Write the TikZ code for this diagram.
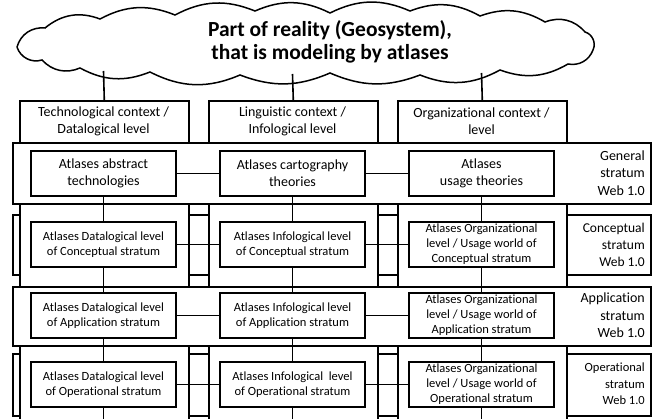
\documentclass[tikz,border=0pt]{standalone}
\usepackage{fontspec}
\setmainfont{Carlito}[Ligatures=NoCommon]
\begin{document}
\begin{tikzpicture}[x=1pt,y=-1pt,
  rect/.style={draw, line width=1.6pt, fill=white, inner sep=0pt, anchor=north west},
  inbox/.style={draw, line width=1.6pt, fill=white, inner sep=0pt, minimum width=145pt, minimum height=45pt, align=center},
  gtxt/.style={font=\fontsize{14}{17}\selectfont},
  stxt/.style={font=\fontsize{12.5}{15.5}\selectfont},
  ctx/.style={align=center, inner sep=0pt, font=\fontsize{14}{17}\selectfont},
  lblr/.style={align=right, inner sep=0pt, anchor=east, font=\fontsize{14}{17.5}\selectfont},
  conn/.style={line width=1.6pt},
  cloudline/.style={line width=1.5pt, fill=white}]
\useasboundingbox (0,0) rectangle (656,419);
\clip (0,0) rectangle (656,419);

% cloud
\draw[cloudline] (17,47) to[bend left=40] (45,28) to[bend left=30] (100,19)
  to[bend left=25] (175,15) to[bend left=25] (255,11) to[bend left=25] (330,13)
  to[bend left=25] (410,11) to[bend left=25] (480,16) to[bend left=25] (545,22)
  to[bend left=35] (585,32) to[bend left=50] (593,50)
  to[bend left=40] (568,64) to[bend left=25] (500,70) to[bend left=25] (420,75)
  to[bend left=22] (330,73) to[bend left=22] (240,75) to[bend left=25] (150,72)
  to[bend left=25] (80,68) to[bend left=35] (42,60) to[bend left=45] (17,47);
\node[align=center, inner sep=0pt, font=\fontsize{21.5}{23.5}\selectfont\bfseries] (cloud) at (330,42)
  {Part of reality (Geosystem),\\that is modeling by atlases};

% bands behind the columns
\node[rect, minimum width=638pt, minimum height=60pt] (bandC) at (12,214) {};
\node[rect, minimum width=638pt, minimum height=62pt] (bandO) at (12,353) {};
\node[lblr, font=\fontsize{13.5}{17}\selectfont] (labC) at (645,245) {Conceptual\\stratum\\Web 1.0};
\node[lblr, font=\fontsize{12.5}{16.5}\selectfont] (labO) at (645,384) {Operational\\stratum\\Web 1.0};

% columns
\node[rect, minimum width=169pt, minimum height=340pt] (col1) at (19,100) {};
\node[rect, minimum width=169pt, minimum height=340pt] (col2) at (208,100) {};
\node[rect, minimum width=169pt, minimum height=340pt] (col3) at (397,100) {};
\node[ctx] (h1) at (103.5,121) {Technological context /\\Datalogical level};
\node[ctx] (h2) at (292.5,121) {Linguistic context /\\Infological level};
\node[ctx] (h3) at (481.5,121) {Organizational context /\\level};

% bands in front of the columns
\node[rect, minimum width=638pt, minimum height=61pt] (bandG) at (12,142) {};
\node[rect, minimum width=638pt, minimum height=59pt] (bandA) at (12,286) {};
\node[lblr] (labG) at (645,173) {General\\stratum\\Web 1.0};
\node[lblr] (labA) at (645,315.5) {Application\\stratum\\Web 1.0};

% cloud connectors
\coordinate (k1) at (103.5,71);
\coordinate (k2) at (292.5,74);
\coordinate (k3) at (481.5,73);
\draw[conn] (k1) -- (col1.north);
\draw[conn] (k2) -- (col2.north);
\draw[conn] (k3) -- (col3.north);

% inner boxes
\node[inbox, gtxt] (g1) at (103.5,173.5) {Atlases abstract\\technologies};
\node[inbox, gtxt] (g2) at (292.5,173.5) {Atlases cartography\\theories};
\node[inbox, gtxt] (g3) at (481.5,173.5) {Atlases\\usage theories};

\node[inbox, stxt] (c1) at (103.5,244.5) {Atlases Datalogical level\\of Conceptual stratum};
\node[inbox, stxt] (c2) at (292.5,244.5) {Atlases Infological level\\of Conceptual stratum};
\node[inbox, stxt, font=\fontsize{12.5}{15}\selectfont] (c3) at (481.5,244.5) {Atlases Organizational\\level / Usage world of\\Conceptual stratum};

\node[inbox, stxt] (a1) at (103.5,315.5) {Atlases Datalogical level\\of Application stratum};
\node[inbox, stxt] (a2) at (292.5,315.5) {Atlases Infological level\\of Application stratum};
\node[inbox, stxt, font=\fontsize{12.5}{15}\selectfont] (a3) at (481.5,315.5) {Atlases Organizational\\level / Usage world of\\Application stratum};

\node[inbox, stxt] (o1) at (103.5,384.5) {Atlases Datalogical level\\of Operational stratum};
\node[inbox, stxt] (o2) at (292.5,384.5) {Atlases Infological\ \ level\\of Operational stratum};
\node[inbox, stxt, font=\fontsize{12.5}{15}\selectfont] (o3) at (481.5,384.5) {Atlases Organizational\\level / Usage world of\\Operational stratum};

% horizontal connectors
\draw[conn] (g1) -- (g2); \draw[conn] (g2) -- (g3);
\draw[conn] (c1) -- (c2); \draw[conn] (c2) -- (c3);
\draw[conn] (a1) -- (a2); \draw[conn] (a2) -- (a3);
\draw[conn] (o1) -- (o2); \draw[conn] (o2) -- (o3);

% vertical connectors
\coordinate (e1) at (103.5,430);
\coordinate (e2) at (292.5,430);
\coordinate (e3) at (481.5,430);
\draw[conn] (g1) -- (c1); \draw[conn] (c1) -- (a1); \draw[conn] (a1) -- (o1); \draw[conn] (o1.south) -- (e1);
\draw[conn] (g2) -- (c2); \draw[conn] (c2) -- (a2); \draw[conn] (a2) -- (o2); \draw[conn] (o2.south) -- (e2);
\draw[conn] (g3) -- (c3); \draw[conn] (c3) -- (a3); \draw[conn] (a3) -- (o3); \draw[conn] (o3.south) -- (e3);
\end{tikzpicture}
\end{document}
